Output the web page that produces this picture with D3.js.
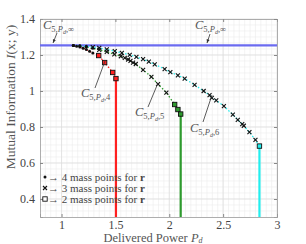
<!DOCTYPE html>
<html><head><meta charset="utf-8">
<script src="https://cdn.jsdelivr.net/npm/d3@7"></script>
<style>body{margin:0;background:#fff}svg{display:block}text{font-family:"Liberation Serif","DejaVu Serif",serif}</style>
</head><body>
<script>
// marker types: d = dot (4 mass pts), x = cross (3), s = square (2)
const redX = [1.11,1.14,1.17,1.20,1.23,1.26,1.29,1.345,1.40,1.475,1.505];
const redY = [1.253,1.249,1.244,1.238,1.230,1.221,1.211,1.197,1.158,1.103,1.069];
const redM = ["d","d","d","d","d","d","d","s","s","s","s"];
const greenX = [1.11,1.17,1.23,1.29,1.35,1.42,1.49,1.55,1.587,1.618,1.64,1.664,1.689,1.757,1.834,1.896,1.973,2.05,2.08,2.106];
const greenY = [1.253,1.250,1.245,1.238,1.229,1.217,1.204,1.193,1.184,1.175,1.167,1.158,1.150,1.117,1.079,1.038,0.991,0.925,0.897,0.872];
const greenM = ["d","d","d","d","x","x","x","x","x","x","x","x","x","x","x","x","x","s","s","s"];
const cyanX = [1.11,1.17,1.23,1.29,1.35,1.42,1.494,1.56,1.633,1.695,1.757,1.81,1.865,1.957,2.01,2.08,2.143,2.235,2.319,2.374,2.395,2.436,2.507,2.59,2.636,2.677,2.692,2.744,2.80,2.837];
const cyanY = [1.253,1.251,1.248,1.244,1.239,1.231,1.221,1.212,1.201,1.189,1.177,1.163,1.148,1.122,1.105,1.087,1.069,1.034,1.000,0.977,0.962,0.948,0.916,0.869,0.840,0.816,0.807,0.771,0.728,0.694];
const cyanM = ["d","d","d","x","x","x","x","x","x","x","x","x","x","x","x","x","x","x","x","x","x","x","x","x","x","x","x","x","x","s"];
const capacity = 1.253;
const xTicks = [1,1.5,2,2.5,3];
const yTicks = [0.4,0.6,0.8,1,1.2,1.4];
const legendLabels = ["4 mass points for ","3 mass points for ","2 mass points for "];
const legendMarks = ["d","x","s"];

const W=306,H=244, L=40,R=277,T=19,B=217;
const svg=d3.select("body").append("svg").attr("width",W).attr("height",H);
const x=d3.scaleLinear().domain([0.8,3]).range([L,R]);
const y=d3.scaleLinear().domain([0.3,1.4]).range([B,T]);

// minor grid
const g=svg.append("g");
g.selectAll(".gx").data(d3.range(0.85,3,0.05)).join("line")
 .attr("x1",d=>x(d)).attr("x2",d=>x(d)).attr("y1",T).attr("y2",B).attr("stroke","#ececec").attr("stroke-width",0.6);
g.selectAll(".gy").data(d3.range(1,33).map(i=>0.3+i*1.1/33)).join("line")
 .attr("y1",d=>y(d)).attr("y2",d=>y(d)).attr("x1",L).attr("x2",R).attr("stroke","#ececec").attr("stroke-width",0.6);
g.selectAll(".Gx").data(xTicks).join("line")
 .attr("x1",d=>x(d)).attr("x2",d=>x(d)).attr("y1",T).attr("y2",B).attr("stroke","#dcdcdc").attr("stroke-width",0.7);
g.selectAll(".Gy").data(yTicks).join("line")
 .attr("y1",d=>y(d)).attr("y2",d=>y(d)).attr("x1",L).attr("x2",R).attr("stroke","#dcdcdc").attr("stroke-width",0.7);

// axes
const fmt=d=>String(d);
svg.append("g").attr("transform",`translate(0,${B})`).call(d3.axisBottom(x).tickValues(xTicks).tickFormat(fmt).tickSize(-3).tickPadding(3));
svg.append("g").attr("transform",`translate(${L},0)`).call(d3.axisLeft(y).tickValues(yTicks).tickFormat(fmt).tickSize(-3).tickPadding(5));
svg.append("g").attr("transform",`translate(0,${T})`).call(d3.axisTop(x).tickValues(xTicks).tickFormat("").tickSize(-3));
svg.append("g").attr("transform",`translate(${R},0)`).call(d3.axisRight(y).tickValues(yTicks).tickFormat("").tickSize(-3));
svg.selectAll(".domain").attr("stroke","#999").attr("stroke-width",0.8);
svg.selectAll(".tick line").attr("stroke","#888");
svg.selectAll(".tick text").attr("font-size",12).attr("fill","#444").attr("font-family","Liberation Serif, serif");

// capacity line
svg.append("line").attr("x1",x(0.8)).attr("x2",x(3)).attr("y1",y(capacity)).attr("y2",y(capacity))
 .attr("stroke","#6b6bf0").attr("stroke-width",2.2);

const series=[
 {X:redX,Y:redY,M:redM,c:"#ff2020"},
 {X:greenX,Y:greenY,M:greenM,c:"#2e9a2e"},
 {X:cyanX,Y:cyanY,M:cyanM,c:"#22eeee"}
];
series.forEach(s=>{
  const n=s.X.length;
  const pts=d3.range(n).map(i=>[s.X[i],s.Y[i],s.M[i]]);
  svg.append("line").attr("x1",x(s.X[n-1])).attr("x2",x(s.X[n-1])).attr("y1",y(s.Y[n-1])).attr("y2",y(0.3))
    .attr("stroke",s.c).attr("stroke-width",2.2);
  svg.append("path").datum(pts).attr("d",d3.line().x(d=>x(d[0])).y(d=>y(d[1])))
    .attr("fill","none").attr("stroke",s.c).attr("stroke-width",1.3).attr("stroke-dasharray","1.5,2");
});
function mark(sel,type,px,py,c){
  if(type==="d") sel.append("circle").attr("cx",px).attr("cy",py).attr("r",1.5).attr("fill","#111");
  else if(type==="x") sel.append("path").attr("d",`M${px-2},${py-2}L${px+2},${py+2}M${px-2},${py+2}L${px+2},${py-2}`).attr("stroke","#111").attr("stroke-width",1.1);
  else sel.append("rect").attr("x",px-2.2).attr("y",py-2.2).attr("width",4.4).attr("height",4.4).attr("fill",c||"#fff").attr("stroke","#111").attr("stroke-width",0.9);
}
const mg=svg.append("g");
series.forEach(s=>{s.X.forEach((v,i)=>mark(mg,s.M[i],x(v),y(s.Y[i]),s.c));});

// annotations
const ann=svg.append("g").attr("fill","#555");
function clabel(px,py,sub){
  const t=ann.append("text").attr("x",px).attr("y",py).attr("font-size",12.5).attr("font-style","italic").attr("fill","#555");
  t.append("tspan").text("C");
  t.append("tspan").attr("font-size",8.5).attr("dy",3).attr("font-style","normal").text("5,");
  t.append("tspan").attr("font-size",8.5).text("P");
  t.append("tspan").attr("font-size",6).attr("dy",1.5).text("d");
  t.append("tspan").attr("font-size",8.5).attr("dy",-1.5).attr("font-style","normal").text(","+sub);
}
function arrow(x1,y1,x2,y2,head){
  ann.append("line").attr("x1",x1).attr("y1",y1).attr("x2",x2).attr("y2",y2).attr("stroke","#333").attr("stroke-width",0.8);
  if(head){
    const a=Math.atan2(y2-y1,x2-x1), l=4;
    ann.append("path").attr("d",`M${x2},${y2}L${x2-l*Math.cos(a-0.4)},${y2-l*Math.sin(a-0.4)}L${x2-l*Math.cos(a+0.4)},${y2-l*Math.sin(a+0.4)}Z`).attr("fill","#333");
  }
}
clabel(43,29,"∞"); arrow(57,33,53,43,true);
clabel(195,29,"∞"); arrow(210,34,207,43,true);
clabel(81,97,"4"); arrow(95,88,105,61,false);
clabel(135,116,"5"); arrow(148,107,158,83,false);
clabel(190,132,"6"); arrow(203,122,212,95,false);

// legend
const lg=svg.append("g");
legendLabels.forEach((lab,i)=>{
  const ly=177+i*11;
  mark(lg,legendMarks[i],45,ly,"#fff");
  const t=lg.append("text").attr("x",48).attr("y",ly+3.5).attr("font-size",11).attr("fill","#444");
  t.append("tspan").text("→ "+lab);
  t.append("tspan").attr("font-weight","bold").text("r");
});

// axis labels
const xl=svg.append("text").attr("x",153).attr("y",241.5).attr("text-anchor","middle").attr("font-size",12.5).attr("fill","#555");
xl.append("tspan").text("Delivered Power ");
xl.append("tspan").attr("font-style","italic").text("P");
xl.append("tspan").attr("font-style","italic").attr("font-size",8).attr("dy",1).text("d");
const yl=svg.append("text").attr("transform",`translate(15,97) rotate(-90)`).attr("text-anchor","middle").attr("font-size",13.5).attr("fill","#555");
yl.append("tspan").text("Mutual Information ");
yl.append("tspan").attr("font-style","italic").text("I");
yl.append("tspan").text("(x; y)");
</script>
</body></html>
